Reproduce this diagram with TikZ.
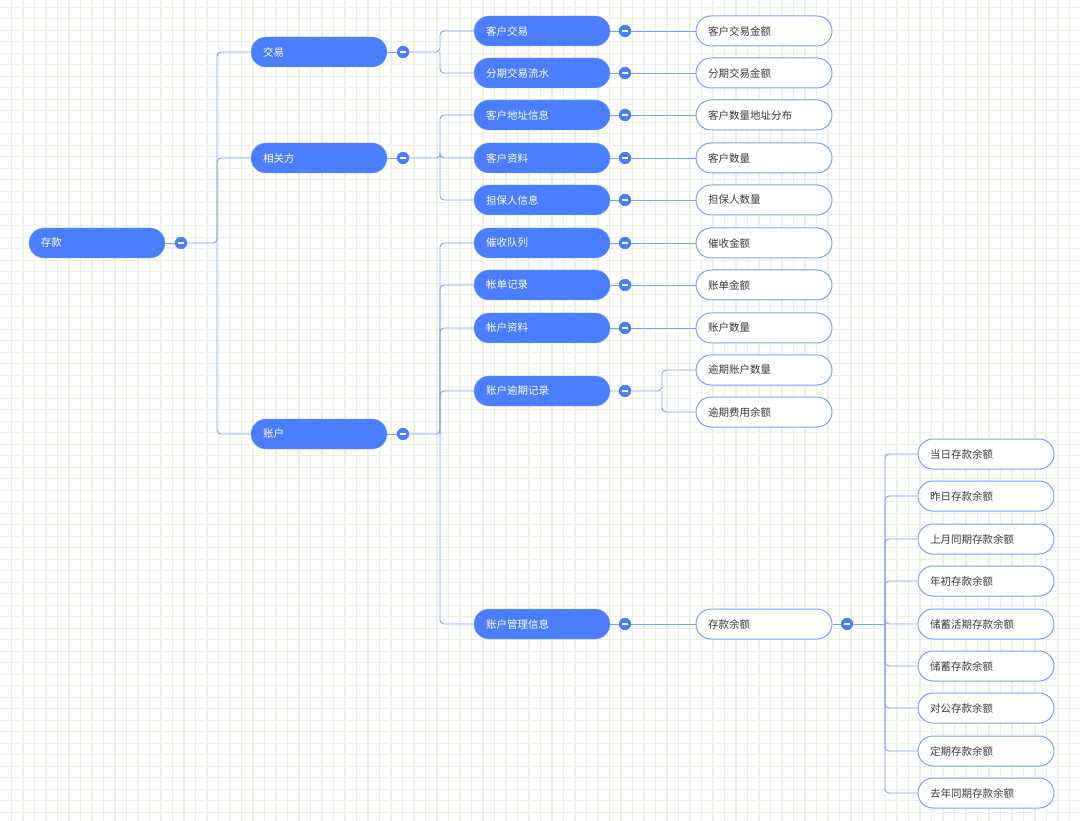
\documentclass[tikz,border=0pt]{standalone}
\usepackage{fontspec}
\setmainfont{Noto Sans CJK SC}
\definecolor{topicblue}{HTML}{4A7DFF}
\definecolor{linkblue}{HTML}{7EA1F7}
\definecolor{gridgreen}{HTML}{EBF1E4}
\definecolor{leaftext}{HTML}{3C3C3C}
\tikzstyle{topic}=[rectangle, rounded corners=15pt, fill=topicblue, draw=topicblue!70!white, text=white, minimum width=136pt, minimum height=30pt, text width=112pt, inner xsep=12pt, align=left, font=\fontsize{10.5}{12}\selectfont]
\tikzstyle{leaf}=[rectangle, rounded corners=15pt, fill=white, draw=linkblue, line width=1pt, text=leaftext, minimum width=136pt, minimum height=30pt, text width=112pt, inner xsep=12pt, align=left, font=\fontsize{10.5}{12}\selectfont]
\tikzstyle{fold}=[circle, fill=topicblue, minimum size=12pt, inner sep=0pt, path picture={\draw[white, line width=1.6pt] ([xshift=-3pt]path picture bounding box.center) -- ([xshift=3pt]path picture bounding box.center);}]
\tikzstyle{link}=[draw=linkblue, line width=0.9pt, rounded corners=4pt]
\tikzstyle{gridline}=[draw=gridgreen, line width=1.1pt]

\begin{document}
\begin{tikzpicture}[x=1pt, y=-1pt]
                    \useasboundingbox (0,0) rectangle (1080,821);
                    \fill[white] (0,0) rectangle (1080,821);
                    % background grid
                    \foreach \i in {1,...,93}
                        \draw[gridline] (11.5*\i, 0) -- (11.5*\i, 821);
                    \foreach \j in {0,...,71}
                        \draw[gridline] (0, 7.3+11.5*\j) -- (1080, 7.3+11.5*\j);
                    % root and first level
                    \node[topic] (0)  at (97, 243) {存款};
                    \node[fold]  (f0) at (181, 243) {};
                    \node[topic] (1)  at (319, 52) {交易};
                    \node[topic] (2)  at (319, 158) {相关方};
                    \node[topic] (3)  at (319, 434) {账户};
                    \node[fold]  (f1) at (403, 52) {};
                    \node[fold]  (f2) at (403, 158) {};
                    \node[fold]  (f3) at (403, 434) {};
                    % second level
                    \node[topic] (11) at (542, 31) {客户交易};
                    \node[topic] (12) at (542, 73) {分期交易流水};
                    \node[topic] (21) at (542, 115) {客户地址信息};
                    \node[topic] (22) at (542, 158) {客户资料};
                    \node[topic] (23) at (542, 200) {担保人信息};
                    \node[topic] (31) at (542, 243) {催收队列};
                    \node[topic] (32) at (542, 285) {帐单记录};
                    \node[topic] (33) at (542, 328) {帐户资料};
                    \node[topic] (34) at (542, 391) {账户逾期记录};
                    \node[topic] (35) at (542, 624) {账户管理信息};
                    \node[fold] (f11) at (625, 31) {};
                    \node[fold] (f12) at (625, 73) {};
                    \node[fold] (f21) at (625, 115) {};
                    \node[fold] (f22) at (625, 158) {};
                    \node[fold] (f23) at (625, 200) {};
                    \node[fold] (f31) at (625, 243) {};
                    \node[fold] (f32) at (625, 285) {};
                    \node[fold] (f33) at (625, 328) {};
                    \node[fold] (f34) at (625, 391) {};
                    \node[fold] (f35) at (625, 624) {};
                    % third level
                    \node[leaf] (111) at (764, 31) {客户交易金额};
                    \node[leaf] (121) at (764, 73) {分期交易金额};
                    \node[leaf] (211) at (764, 115) {客户数量地址分布};
                    \node[leaf] (221) at (764, 158) {客户数量};
                    \node[leaf] (231) at (764, 200) {担保人数量};
                    \node[leaf] (311) at (764, 243) {催收金额};
                    \node[leaf] (321) at (764, 285) {账单金额};
                    \node[leaf] (331) at (764, 328) {账户数量};
                    \node[leaf] (341) at (764, 370) {逾期账户数量};
                    \node[leaf] (342) at (764, 412) {逾期费用余额};
                    \node[leaf] (351) at (764, 624) {存款余额};
                    \node[fold] (f351) at (847, 624) {};
                    % fourth level
                    \node[leaf] (3511) at (986, 454) {当日存款余额};
                    \node[leaf] (3512) at (986, 496) {昨日存款余额};
                    \node[leaf] (3513) at (986, 539) {上月同期存款余额};
                    \node[leaf] (3514) at (986, 581) {年初存款余额};
                    \node[leaf] (3515) at (986, 624) {储蓄活期存款余额};
                    \node[leaf] (3516) at (986, 666) {储蓄存款余额};
                    \node[leaf] (3517) at (986, 708) {对公存款余额};
                    \node[leaf] (3518) at (986, 751) {定期存款余额};
                    \node[leaf] (3519) at (986, 793) {去年同期存款余额};
                    % branch points
                    \coordinate (b0)   at (217, 243);
                    \coordinate (b1)   at (440, 52);
                    \coordinate (b2)   at (440, 158);
                    \coordinate (b3)   at (440, 434);
                    \coordinate (b34)  at (662, 391);
                    \coordinate (b351) at (885, 624);
                    % links
                    \draw[link] (0) -- (f0);
                    \draw[link] (f0) -- (b0) |- (1);
                    \draw[link] (b0) |- (2);
                    \draw[link] (b0) |- (3);
                    \draw[link] (1) -- (f1);
                    \draw[link] (2) -- (f2);
                    \draw[link] (3) -- (f3);
                    \draw[link] (f1) -- (b1) |- (11);
                    \draw[link] (b1) |- (12);
                    \draw[link] (f2) -- (b2) |- (21);
                    \draw[link] (b2) |- (22);
                    \draw[link] (b2) |- (23);
                    \draw[link] (f3) -- (b3) |- (31);
                    \draw[link] (b3) |- (32);
                    \draw[link] (b3) |- (33);
                    \draw[link] (b3) |- (34);
                    \draw[link] (b3) |- (35);
                    \draw[link] (11) -- (f11) -- (111);
                    \draw[link] (12) -- (f12) -- (121);
                    \draw[link] (21) -- (f21) -- (211);
                    \draw[link] (22) -- (f22) -- (221);
                    \draw[link] (23) -- (f23) -- (231);
                    \draw[link] (31) -- (f31) -- (311);
                    \draw[link] (32) -- (f32) -- (321);
                    \draw[link] (33) -- (f33) -- (331);
                    \draw[link] (34) -- (f34) -- (b34) |- (341);
                    \draw[link] (b34) |- (342);
                    \draw[link] (35) -- (f35) -- (351);
                    \draw[link] (351) -- (f351) -- (b351);
                    \foreach \n in {3511,3512,3513,3514,3515,3516,3517,3518,3519}
                        \draw[link] (b351) |- (\n);
                    % folds on top of links
                    \foreach \f in {f0,f1,f2,f3,f11,f12,f21,f22,f23,f31,f32,f33,f34,f35,f351}
                        \node[fold] at (\f) {};
                \end{tikzpicture}
\end{document}
